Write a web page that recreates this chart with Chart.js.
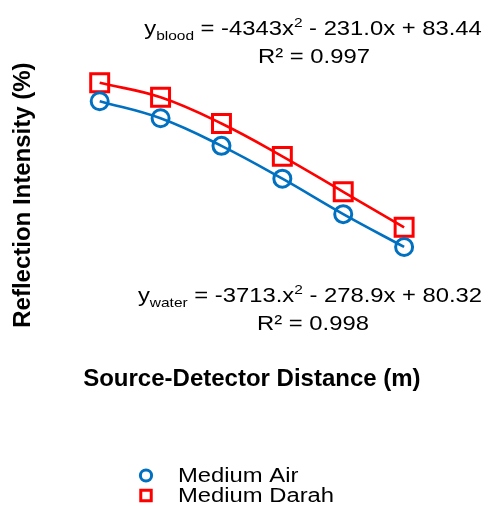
<!DOCTYPE html>
<html>
<head>
<meta charset="utf-8">
<script src="https://cdn.jsdelivr.net/npm/chart.js@4.4.1/dist/chart.umd.min.js"></script>
<style>
  html, body { margin: 0; padding: 0; background: #fff; }
  #wrap { width: 489px; height: 506px; }
</style>
</head>
<body>
<div id="wrap"><canvas id="reflection-chart"></canvas></div>
<script>
// Source-detector distance (m)
const distances = [0.010, 0.015, 0.020, 0.025, 0.030, 0.035];
// Reflection intensity (%)
const waterIntensity = [77.2, 75.9, 73.8, 71.3, 68.6, 66.1];
const bloodIntensity = [78.6, 77.5, 75.5, 73.0, 70.3, 67.6];
const seriesLabels = ['Medium Air', 'Medium Darah'];

// Fitted equations printed on the chart
const bloodEquation = [
  { t: 'y' }, { t: 'blood', sub: true }, { t: ' = -4343x' }, { t: '2', sup: true }, { t: ' - 231.0x + 83.44' }
];
const bloodR2 = 'R² = 0.997';
const waterEquation = [
  { t: 'y' }, { t: 'water', sub: true }, { t: ' = -3713.x' }, { t: '2', sup: true }, { t: ' - 278.9x + 80.32' }
];
const waterR2 = 'R² = 0.998';

const BLUE = '#0070C0';
const RED = '#FF0000';
const FONT = "'Liberation Sans', Arial, Helvetica, sans-serif";
const TEXT_STRETCH = 1.19; // wide lettering for the labels

function toPoints(xs, ys) {
  return xs.map((x, i) => ({ x: x, y: ys[i] }));
}

// draws a line of text with sub/superscript pieces, centred on cx
function drawRich(ctx, parts, cx, baseline) {
  const base = 20, small = 13;
  let width = 0;
  parts.forEach(p => {
    ctx.font = ((p.sub || p.sup) ? small : base) + 'px ' + FONT;
    p.w = ctx.measureText(p.t).width;
    width += p.w;
  });
  ctx.save();
  ctx.translate(cx, baseline);
  ctx.scale(TEXT_STRETCH, 1);
  let x = -width / 2;
  parts.forEach(p => {
    ctx.font = ((p.sub || p.sup) ? small : base) + 'px ' + FONT;
    const dy = p.sub ? 5 : (p.sup ? -8 : 0);
    ctx.fillText(p.t, x, dy);
    x += p.w;
  });
  ctx.restore();
}

const labelsPlugin = {
  id: 'fitLabels',
  afterDraw(chart) {
    const ctx = chart.ctx;
    ctx.save();
    ctx.fillStyle = '#000';
    ctx.textBaseline = 'alphabetic';
    ctx.textAlign = 'left';

    drawRich(ctx, bloodEquation, 313, 35);
    drawRich(ctx, [{ t: bloodR2 }], 314, 63);
    drawRich(ctx, waterEquation, 310, 302);
    drawRich(ctx, [{ t: waterR2 }], 313, 330);

    // legend, stacked one item per row
    const rows = [482, 502];
    chart.data.datasets.forEach((ds, i) => {
      const y = rows[i];
      ctx.save();
      ctx.strokeStyle = ds.borderColor;
      ctx.fillStyle = 'rgba(0,0,0,0)';
      ctx.lineWidth = 3;
      Chart.helpers.drawPoint(ctx, {
        pointStyle: ds.pointStyle,
        radius: ds.pointStyle === 'rect' ? 7.4 : 5.6,
        rotation: 0,
        borderWidth: 3
      }, 146, y - 6.5);
      ctx.restore();

      ctx.save();
      ctx.fillStyle = '#000';
      ctx.font = '20px ' + FONT;
      ctx.translate(178, y);
      ctx.scale(TEXT_STRETCH, 1);
      ctx.fillText(ds.label, 0, 0);
      ctx.restore();
    });
    ctx.restore();
  }
};

new Chart(document.getElementById('reflection-chart'), {
  type: 'scatter',
  data: {
    datasets: [
      {
        label: seriesLabels[0],
        data: toPoints(distances, waterIntensity),
        showLine: true,
        borderColor: BLUE,
        borderWidth: 2.6,
        tension: 0.4,
        pointStyle: 'circle',
        pointRadius: 8.5,
        pointBorderWidth: 3,
        pointBorderColor: BLUE,
        pointBackgroundColor: 'rgba(0,0,0,0)'
      },
      {
        label: seriesLabels[1],
        data: toPoints(distances, bloodIntensity),
        showLine: true,
        borderColor: RED,
        borderWidth: 2.6,
        tension: 0.4,
        pointStyle: 'rect',
        pointRadius: 12.7,
        pointBorderWidth: 3,
        pointBorderColor: RED,
        pointBackgroundColor: 'rgba(0,0,0,0)'
      }
    ]
  },
  options: {
    responsive: true,
    maintainAspectRatio: false,
    animation: false,
    layout: { padding: { top: 29, right: 24, bottom: 108, left: 5 } },
    plugins: {
      legend: { display: false },
      tooltip: { enabled: false }
    },
    scales: {
      x: {
        type: 'linear',
        min: 0.005,
        max: 0.040,
        ticks: { display: false },
        grid: { display: false, drawTicks: false },
        border: { display: false },
        title: {
          display: true,
          text: 'Source-Detector Distance (m)',
          color: '#000',
          font: { family: FONT, size: 24, weight: 'bold' },
          padding: { top: 4, bottom: 4 }
        }
      },
      y: {
        min: 57.4,
        max: 82.7,
        ticks: { display: false },
        grid: { display: false, drawTicks: false },
        border: { display: false },
        title: {
          display: true,
          text: 'Reflection Intensity (%)',
          color: '#000',
          font: { family: FONT, size: 24, weight: 'bold' },
          padding: { top: 4, bottom: 1 }
        }
      }
    }
  },
  plugins: [labelsPlugin]
});
</script>
</body>
</html>
